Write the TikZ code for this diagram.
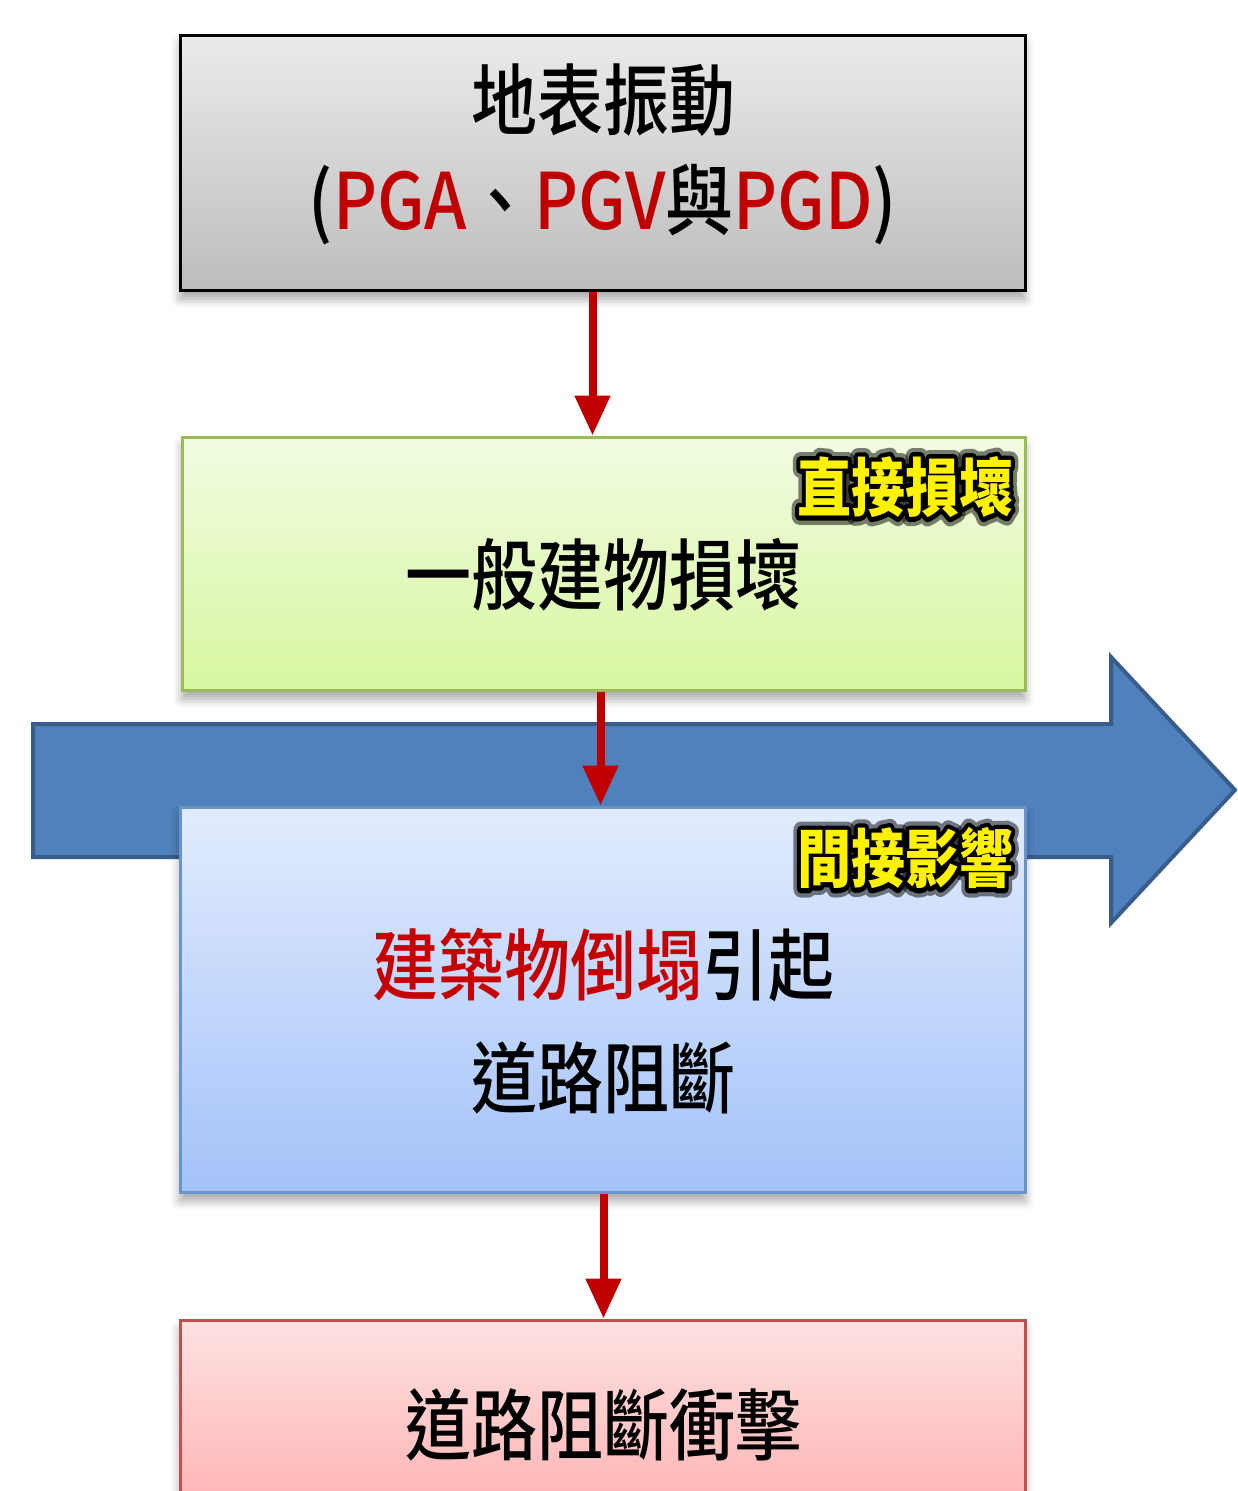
\documentclass[tikz,border=0pt]{standalone}
\usepackage{fontspec}
\setmainfont{Noto Sans CJK TC}
\IfFontExistsTF{Noto Sans CJK TC Medium}
  {\newfontfamily\medfont{Noto Sans CJK TC Medium}}
  {\newfontfamily\medfont{Noto Sans CJK TC}}
\usetikzlibrary{arrows.meta,calc,shadows.blur}
\definecolor{redA}{HTML}{C00000}
\definecolor{blueArr}{HTML}{4F81BD}
\definecolor{blueArrB}{HTML}{385D8A}
\definecolor{greenB}{HTML}{9BBB59}
\definecolor{blueB}{HTML}{4F81BD}
\definecolor{pinkB}{HTML}{C0504D}
\newcommand\tallt[1]{\scalebox{1}[1.18]{#1}}
\newcommand\strokedtext[2]{\tallt{\special{pdf:literal direct 1 Tr #1 w 1 j 1 J}#2\special{pdf:literal direct 0 Tr}}}
\tikzset{
  box/.style={rectangle, line width=3pt, inner sep=0pt,
    blur shadow={shadow xshift=0pt, shadow yshift=-9pt, shadow blur radius=9pt, shadow opacity=35}},
  maintext/.style={inner sep=0pt, font=\fontsize{66}{70}\selectfont\medfont},
  lbl/.style={inner sep=0pt, font=\fontsize{54}{58}\selectfont\bfseries},
  redarrow/.style={draw=redA, line width=8pt, -{Triangle[width=34pt,length=40pt]}, redA}
}
\begin{document}
\begin{tikzpicture}[x=1pt,y=1pt]
\useasboundingbox (0,0) rectangle (1237,-1491);
\clip (0,0) rectangle (1237,-1491);
% top box
\node[box, draw=black, top color=black!8, bottom color=black!26, minimum width=845pt, minimum height=255pt] (top) at (602.5,-162.5) {};
\node[maintext] (t1) at (603,-100) {\tallt{地表振動}};
\node[maintext] (t2) at (603,-205) {\scalebox{1.03}[1.18]{(\textcolor{redA}{PGA}、\textcolor{redA}{PGV}與\textcolor{redA}{PGD})}};
% green box
\node[box, draw=greenB, top color={rgb,255:red,241;green,251;blue,226}, bottom color={rgb,255:red,216;green,247;blue,160}, minimum width=843pt, minimum height=253pt] (green) at (603.5,-563.5) {};
\node[maintext] (g1) at (603,-575) {\tallt{一般建物損壞}};
% red arrow 1
\draw[redarrow] ([xshift=-10pt]top.south) -- ([xshift=-10pt]top.south |- green.north);
% big blue arrow
\draw[draw=blueArrB, fill=blueArr, line width=4pt, line join=miter]
  (33,-724) -- (1111,-724) -- (1111,-657) -- (1235,-790) -- (1111,-923) -- (1111,-857) -- (33,-857) -- cycle;
% blue box
\node[box, draw=blueB!85, top color={rgb,255:red,226;green,236;blue,253}, bottom color={rgb,255:red,163;green,194;blue,249}, minimum width=845pt, minimum height=385pt] (blue) at (602.5,-999.5) {};
\node[maintext] (b1) at (603,-965) {\tallt{\textcolor{redA!90!red}{建築物倒塌}引起}};
\node[maintext] (b2) at (603,-1078) {\tallt{道路阻斷}};
% red arrow 2
\draw[redarrow] ([xshift=-3pt]green.south) -- ([xshift=-3pt]green.south |- blue.north);
% pink box
\node[box, draw=pinkB, top color={rgb,255:red,253;green,226;blue,226}, bottom color={rgb,255:red,255;green,164;blue,164}, minimum width=845pt, minimum height=250pt] (pink) at (602.5,-1445) {};
\node[maintext] (p1) at (603,-1425) {\tallt{道路阻斷衝擊}};
% red arrow 3
\draw[redarrow] ([xshift=1pt]blue.south) -- ([xshift=1pt]blue.south |- pink.north);
% glow labels
\coordinate (l1pos) at (905,-487);
\coordinate (l2pos) at (905,-858);
\node[lbl, text=black, opacity=0.5] (g1glow) at (l1pos) {\strokedtext{15}{直接損壞}};
\node[lbl, text=black] (g1line) at (l1pos) {\strokedtext{8}{直接損壞}};
\node[lbl, text=yellow] (lab1) at (l1pos) {\tallt{直接損壞}};
\node[lbl, text=black, opacity=0.5] (g2glow) at (l2pos) {\strokedtext{15}{間接影響}};
\node[lbl, text=black] (g2line) at (l2pos) {\strokedtext{8}{間接影響}};
\node[lbl, text=yellow] (lab2) at (l2pos) {\tallt{間接影響}};
\end{tikzpicture}
\end{document}
